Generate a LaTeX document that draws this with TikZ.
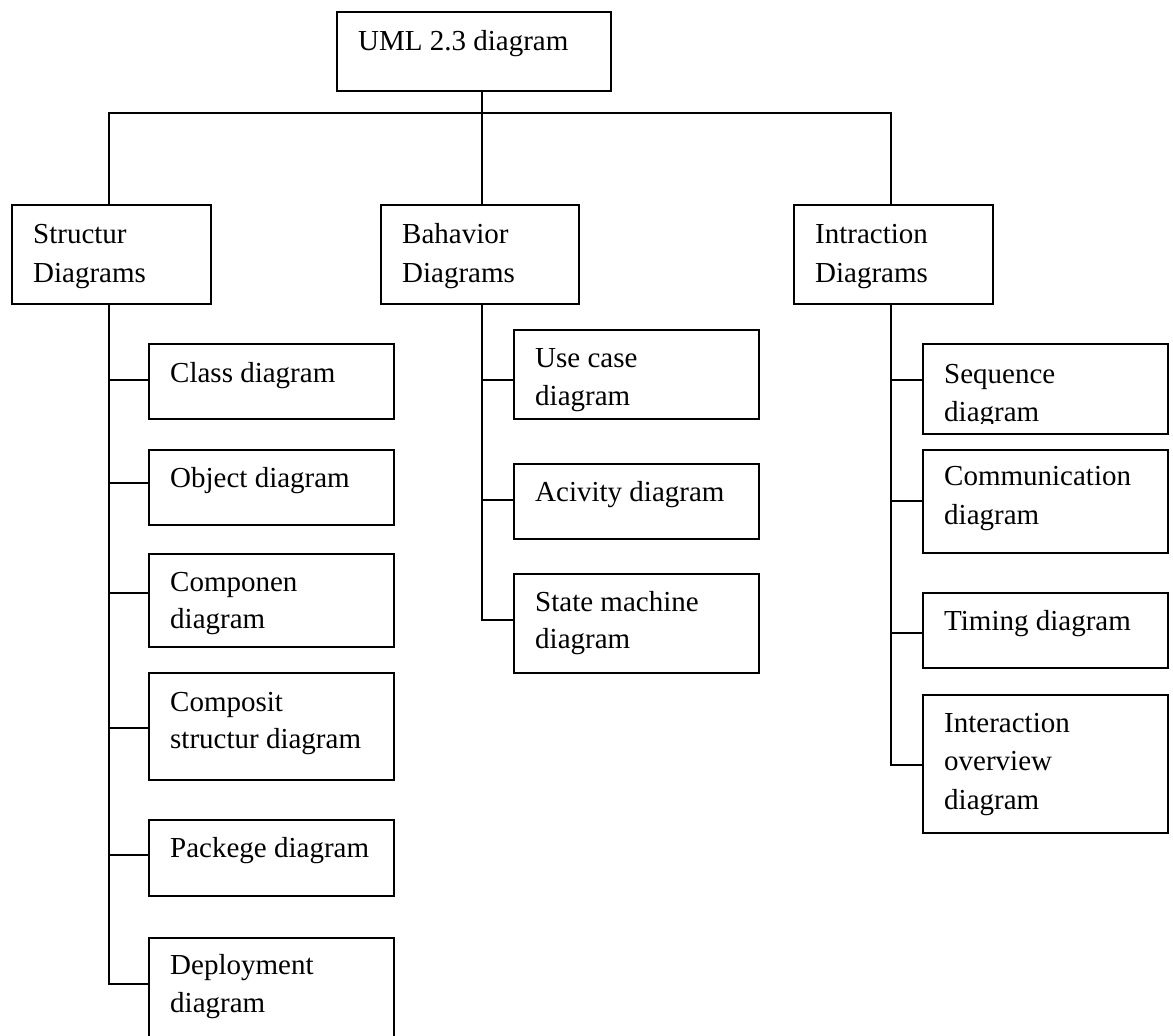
\documentclass[tikz,border=0pt]{standalone}
\usepackage{fontspec}
\setmainfont{Liberation Serif}
\usetikzlibrary{fit}
\begin{document}
\begin{tikzpicture}[x=1pt,y=-1pt,
  umlbox/.style={draw=black,line width=1.6pt,inner sep=0pt,rectangle},
  lbl/.style={anchor=base west,inner sep=0pt,font=\fontsize{29}{38}\selectfont},
  conn/.style={draw=black,line width=1.5pt,line cap=rect}]
\useasboundingbox (0,0) rectangle (1173,1036);
% top level boxes
\node[umlbox,fit={(337,12)(611,91)}] (top) {};
\node[umlbox,fit={(12,205)(211,304)}] (struct) {};
\node[umlbox,fit={(381,205)(579,304)}] (behav) {};
\node[umlbox,fit={(794,205)(993,304)}] (intr) {};
% structure children
\node[umlbox,fit={(149,344)(394,419)}] (cls) {};
\node[umlbox,fit={(149,450)(394,525)}] (obj) {};
\node[umlbox,fit={(149,554)(394,647)}] (cmp) {};
\node[umlbox,fit={(149,673)(394,780)}] (cst) {};
\node[umlbox,fit={(149,820)(394,896)}] (pkg) {};
\node[umlbox,fit={(149,938)(394,1060)}] (dep) {};
% behavior children
\node[umlbox,fit={(514,330)(759,419)}] (uc) {};
\node[umlbox,fit={(514,464)(759,539)}] (act) {};
\node[umlbox,fit={(514,574)(759,673)}] (sm) {};
% interaction children
\node[umlbox,fit={(923,344)(1168,434)}] (seq) {};
\node[umlbox,fit={(923,450)(1168,553)}] (com) {};
\node[umlbox,fit={(923,593)(1168,668)}] (tim) {};
\node[umlbox,fit={(923,695)(1168,833)}] (iov) {};
% texts
\node[lbl] (top-t) at (358,50) {UML 2.3 diagram};
\node[lbl] (struct-t1) at (33,243) {Structur};
\node[lbl] (struct-t2) at (33,282) {Diagrams};
\node[lbl] (behav-t1) at (402,243) {Bahavior};
\node[lbl] (behav-t2) at (402,282) {Diagrams};
\node[lbl] (intr-t1) at (815,243) {Intraction};
\node[lbl] (intr-t2) at (815,282) {Diagrams};
\node[lbl] (cls-t) at (170,382) {Class diagram};
\node[lbl] (obj-t) at (170,487) {Object diagram};
\node[lbl] (cmp-t1) at (170,591) {Componen};
\node[lbl] (cmp-t2) at (170,628) {diagram};
\node[lbl] (cst-t1) at (170,711) {Composit};
\node[lbl] (cst-t2) at (170,748) {structur diagram};
\node[lbl] (pkg-t) at (170,857) {Packege diagram};
\node[lbl] (dep-t1) at (170,974) {Deployment};
\node[lbl] (dep-t2) at (170,1012) {diagram};
\node[lbl] (uc-t1) at (535,367) {Use case};
\node[lbl] (uc-t2) at (535,405) {diagram};
\node[lbl] (act-t) at (535,501) {Acivity diagram};
\node[lbl] (sm-t1) at (535,611) {State machine};
\node[lbl] (sm-t2) at (535,648) {diagram};
\node[lbl] (seq-t1) at (944,383) {Sequence};
\begin{scope}
\clip (923,344) rectangle (1168,423);
\node[lbl] (seq-t2) at (944,421) {diagram};
\end{scope}
\node[lbl] (com-t1) at (944,485) {Communication};
\node[lbl] (com-t2) at (944,524) {diagram};
\node[lbl] (tim-t) at (944,630) {Timing diagram};
\node[lbl] (iov-t1) at (944,732) {Interaction};
\node[lbl] (iov-t2) at (944,770) {overview};
\node[lbl] (iov-t3) at (944,809) {diagram};
% junction coordinates
\coordinate (busL) at (109,113);
\coordinate (busM) at (482,113);
\coordinate (busR) at (891,113);
\coordinate (j-cls) at (109,380);
\coordinate (j-obj) at (109,483);
\coordinate (j-cmp) at (109,593);
\coordinate (j-cst) at (109,728);
\coordinate (j-pkg) at (109,855);
\coordinate (j-dep) at (109,984);
\coordinate (j-uc) at (482,380);
\coordinate (j-act) at (482,500);
\coordinate (j-sm) at (482,620);
\coordinate (j-seq) at (891,380);
\coordinate (j-com) at (891,501);
\coordinate (j-tim) at (891,633);
\coordinate (j-iov) at (891,765);
% top connectors
\draw[conn] (busM |- top.south) -- (busM |- behav.north);
\draw[conn] (busL |- struct.north) -- (busL) -- (busR) -- (busR |- intr.north);
% trunks
\draw[conn] (j-cls |- struct.south) -- (j-dep);
\draw[conn] (j-uc |- behav.south) -- (j-sm);
\draw[conn] (j-seq |- intr.south) -- (j-iov);
% branches
\draw[conn] (j-cls) -- (j-cls -| cls.west);
\draw[conn] (j-obj) -- (j-obj -| obj.west);
\draw[conn] (j-cmp) -- (j-cmp -| cmp.west);
\draw[conn] (j-cst) -- (j-cst -| cst.west);
\draw[conn] (j-pkg) -- (j-pkg -| pkg.west);
\draw[conn] (j-dep) -- (j-dep -| dep.west);
\draw[conn] (j-uc) -- (j-uc -| uc.west);
\draw[conn] (j-act) -- (j-act -| act.west);
\draw[conn] (j-sm) -- (j-sm -| sm.west);
\draw[conn] (j-seq) -- (j-seq -| seq.west);
\draw[conn] (j-com) -- (j-com -| com.west);
\draw[conn] (j-tim) -- (j-tim -| tim.west);
\draw[conn] (j-iov) -- (j-iov -| iov.west);
\end{tikzpicture}
\end{document}
